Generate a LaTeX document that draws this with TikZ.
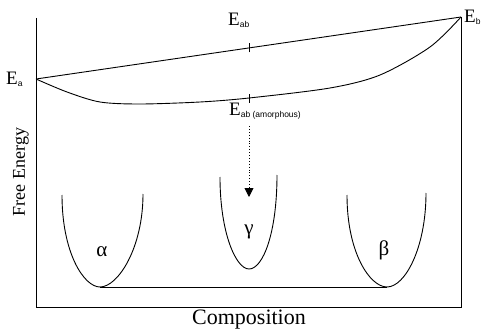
\documentclass[tikz,border=0pt]{standalone}
\usepackage{fontspec}
\setmainfont{Liberation Serif}
\newfontfamily\subfont{Liberation Sans}
\usetikzlibrary{positioning,arrows.meta,calc}

\newcommand{\Esub}[1]{E\raisebox{-2pt}{\subfont\fontsize{8.5}{9}\selectfont #1}}

\begin{document}
\begin{tikzpicture}[
  x=1pt, y=1pt,
  >={Triangle[length=9pt,width=9pt]},
  curve/.style={line width=0.9pt},
  tickmark/.style={line width=0.8pt},
  energy/.style={font=\fontsize{19}{21}\selectfont, inner sep=0pt},
  phase/.style={font=\fontsize{21}{23}\selectfont, inner sep=0pt},
  axislabel/.style={inner sep=0pt}
]
\useasboundingbox (0,0) rectangle (483,333);

% axes
\coordinate (top) at (36,315);
\coordinate (O) at (36,26);
\coordinate (right) at (461,26);
\coordinate (Ea) at (36,254);
\coordinate (Eb) at (461,316);
\draw[curve] (top) -- (O) -- (right) -- (Eb);

% mixing lines
\draw[curve] (Ea) -- (Eb);
\draw[curve] plot[smooth] coordinates {(36,254) (67,241) (100,231) (140,229) (200,231) (249,235) (330,245) (380,258) (430,286) (461,316)};

\coordinate (Tab) at (249,285);
\coordinate (Tam) at (249,235);
\draw[tickmark] ($(Tab)+(0,-4.5)$) -- ($(Tab)+(0,4.5)$);
\draw[tickmark] ($(Tam)+(0,-4.5)$) -- ($(Tam)+(0,4.5)$);

\node[energy, anchor=base west] (LEa) at (6,248) {\Esub{a}};
\node[energy, anchor=base west] (LEb) at (464,310) {\Esub{b}};
\node[energy, anchor=base west] (LEab) at (228,307) {\Esub{ab}};
\node[energy, anchor=base west] (LEam) at (229,218) {\Esub{ab (amorphous)}};

% quench arrow
\coordinate (arrS) at (249,207);
\coordinate (arrE) at (249,136);
\draw[->, dotted, line width=0.9pt] (arrS) -- (arrE);

% phase wells
\coordinate (aBot) at (100,46);
\coordinate (gBot) at (249,64);
\coordinate (bBot) at (387,46);
\draw[curve] (62,138) .. controls (62,80) and (84,46) .. (aBot)
  .. controls (118,46) and (143,85) .. (143,139);
\draw[curve] (220,156) .. controls (220,100) and (236,64) .. (gBot)
  .. controls (263,64) and (277,100) .. (277,158);
\draw[curve] (347,138) .. controls (347,80) and (370,46) .. (bBot)
  .. controls (405,46) and (426,85) .. (426,140);
\draw[curve] (aBot) -- (bBot);

\node[phase] (alpha) at (102,81) {α};
\node[phase] (gamma) at (249,101) {γ};
\node[phase] (beta) at (384,83) {β};

% axis labels
\node[axislabel, rotate=90, font=\fontsize{18}{20}\selectfont] (ylab) at (21,161) {Free Energy};
\node[axislabel, anchor=base, font=\fontsize{22}{24}\selectfont] (xlab) at (249,9) {Composition};
\end{tikzpicture}
\end{document}
